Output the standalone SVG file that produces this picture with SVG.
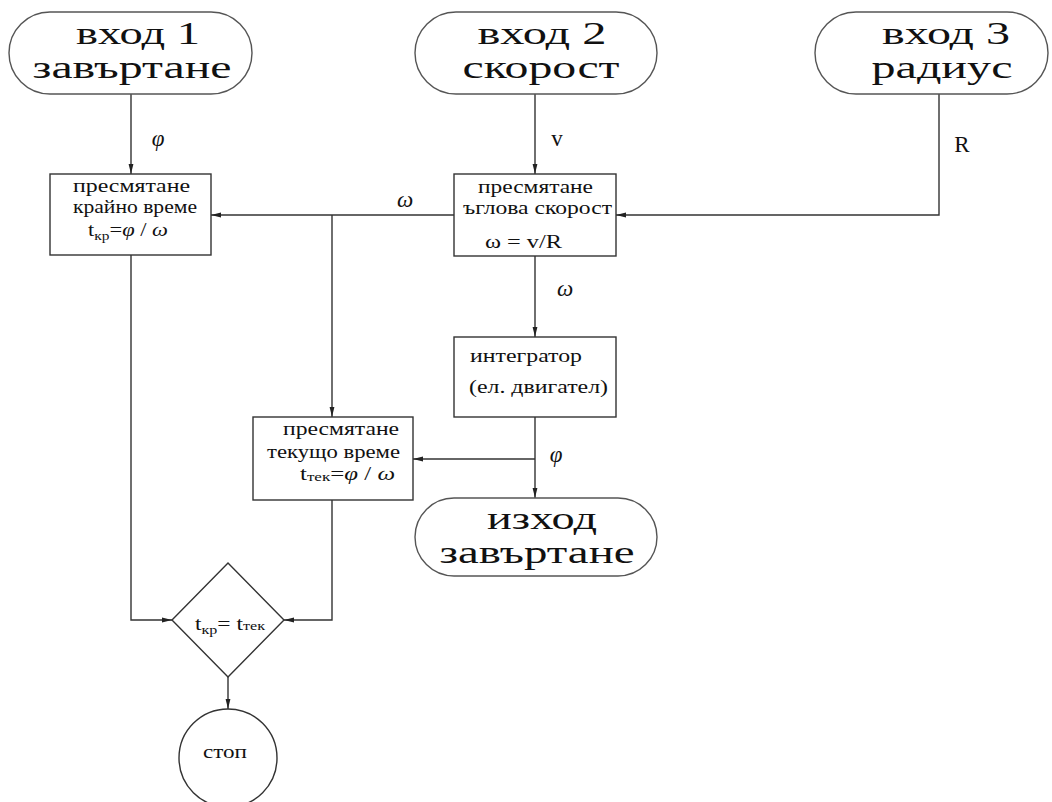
<svg xmlns="http://www.w3.org/2000/svg" width="1052" height="802" viewBox="0 0 1052 802">
<defs>
<marker id="arr" viewBox="0 0 10 6" refX="10" refY="3" markerWidth="10" markerHeight="6" markerUnits="userSpaceOnUse" orient="auto">
<path d="M0,0.6 L10,3 L0,5.4 Z" fill="#222"/>
</marker>
<style>
.term{fill:#fff;stroke:#555;stroke-width:1.4}
.box{fill:#fff;stroke:#333;stroke-width:1.4}
.ln{fill:none;stroke:#333;stroke-width:1.4}
text{font-family:'Liberation Serif','DejaVu Serif','Noto Serif',serif;fill:#111}
.big{font-size:32px;text-anchor:middle}
.sm{font-size:19px}
.lbl{font-size:23px}
.it{font-style:italic}
.sub{font-size:13px}
</style>
</defs>
<rect width="1052" height="802" fill="#fff"/>

<g id="connectors">
<line class="ln" x1="131" y1="94" x2="131" y2="174" marker-end="url(#arr)"/>
<line class="ln" x1="535" y1="94" x2="535" y2="174" marker-end="url(#arr)"/>
<polyline class="ln" points="939,94 939,215 616,215" marker-end="url(#arr)"/>
<line class="ln" x1="454" y1="215" x2="211" y2="215" marker-end="url(#arr)"/>
<line class="ln" x1="332" y1="215" x2="332" y2="417" marker-end="url(#arr)"/>
<line class="ln" x1="535" y1="256" x2="535" y2="337" marker-end="url(#arr)"/>
<line class="ln" x1="535" y1="417" x2="535" y2="498" marker-end="url(#arr)"/>
<line class="ln" x1="535" y1="459" x2="413" y2="459" marker-end="url(#arr)"/>
<polyline class="ln" points="131,255 131,620 172,620" marker-end="url(#arr)"/>
<polyline class="ln" points="332,500 332,620 284,620" marker-end="url(#arr)"/>
<line class="ln" x1="228" y1="677" x2="228" y2="709" marker-end="url(#arr)"/>
<text class="lbl it" x="158" y="146" text-anchor="middle">φ</text>
<text class="lbl" x="557" y="146" text-anchor="middle">v</text>
<text class="lbl" x="962" y="152" text-anchor="middle">R</text>
<text class="lbl it" x="405" y="207" text-anchor="middle">ω</text>
<text class="lbl it" x="565" y="296" text-anchor="middle">ω</text>
<text class="lbl it" x="556" y="462" text-anchor="middle">φ</text>
</g>

<g id="in1">
<rect class="term" x="9" y="12" width="243" height="82" rx="41" ry="41"/>
<text class="big" x="138" y="44" textLength="124" lengthAdjust="spacingAndGlyphs">вход 1</text>
<text class="big" x="132" y="78" textLength="199" lengthAdjust="spacingAndGlyphs">завъртане</text>
</g>
<g id="in2">
<rect class="term" x="415" y="12" width="242" height="82" rx="41" ry="41"/>
<text class="big" x="542" y="44" textLength="129" lengthAdjust="spacingAndGlyphs">вход 2</text>
<text class="big" x="541" y="78" textLength="157" lengthAdjust="spacingAndGlyphs">скорост</text>
</g>
<g id="in3">
<rect class="term" x="815" y="12" width="233" height="82" rx="41" ry="41"/>
<text class="big" x="946" y="44" textLength="128" lengthAdjust="spacingAndGlyphs">вход 3</text>
<text class="big" x="942" y="78" textLength="141" lengthAdjust="spacingAndGlyphs">радиус</text>
</g>

<g id="calcEnd">
<rect class="box" x="50" y="174" width="161" height="81"/>
<text class="sm" x="73" y="192" textLength="117" lengthAdjust="spacingAndGlyphs">пресмятане</text>
<text class="sm" x="73" y="213" textLength="124" lengthAdjust="spacingAndGlyphs">крайно време</text>
<text class="sm" x="88" y="236" textLength="80" lengthAdjust="spacingAndGlyphs">t<tspan class="sub" dy="4">кр</tspan><tspan dy="-4">=</tspan><tspan class="it">φ</tspan> / <tspan class="it">ω</tspan></text>
</g>

<g id="calcOmega">
<rect class="box" x="454" y="174" width="162" height="82"/>
<text class="sm" x="478" y="193" textLength="115" lengthAdjust="spacingAndGlyphs">пресмятане</text>
<text class="sm" x="463" y="214" textLength="149" lengthAdjust="spacingAndGlyphs">ъглова скорост</text>
<text class="sm" x="485" y="248" textLength="77" lengthAdjust="spacingAndGlyphs">ω = v/R</text>
</g>

<g id="integrator">
<rect class="box" x="454" y="337" width="162" height="80"/>
<text class="sm" x="470" y="362" textLength="112" lengthAdjust="spacingAndGlyphs">интегратор</text>
<text class="sm" x="469" y="393" textLength="139" lengthAdjust="spacingAndGlyphs">(ел. двигател)</text>
</g>

<g id="calcCur">
<rect class="box" x="253" y="417" width="160" height="83"/>
<text class="sm" x="283" y="435" textLength="116" lengthAdjust="spacingAndGlyphs">пресмятане</text>
<text class="sm" x="267" y="458" textLength="133" lengthAdjust="spacingAndGlyphs">текущо време</text>
<text class="sm" x="300" y="480" textLength="95" lengthAdjust="spacingAndGlyphs">t<tspan class="sub" dy="1">тек</tspan><tspan dy="-1">=</tspan><tspan class="it">φ</tspan> / <tspan class="it">ω</tspan></text>
</g>

<g id="out">
<rect class="term" x="415" y="498" width="242" height="78" rx="39" ry="39"/>
<text class="big" x="542" y="529" textLength="110" lengthAdjust="spacingAndGlyphs">изход</text>
<text class="big" x="537" y="563" textLength="195" lengthAdjust="spacingAndGlyphs">завъртане</text>
</g>

<g id="decision">
<polygon class="box" points="228,563 284,620 228,677 172,620"/>
<text class="sm" x="195" y="630" textLength="70" lengthAdjust="spacingAndGlyphs">t<tspan class="sub" dy="4">кр</tspan><tspan dy="-4">= t</tspan><tspan class="sub">тек</tspan></text>
</g>

<g id="stop">
<circle class="box" cx="228" cy="758" r="49"/>
<text class="sm" x="203" y="758" textLength="44" lengthAdjust="spacingAndGlyphs">стоп</text>
</g>
</svg>
